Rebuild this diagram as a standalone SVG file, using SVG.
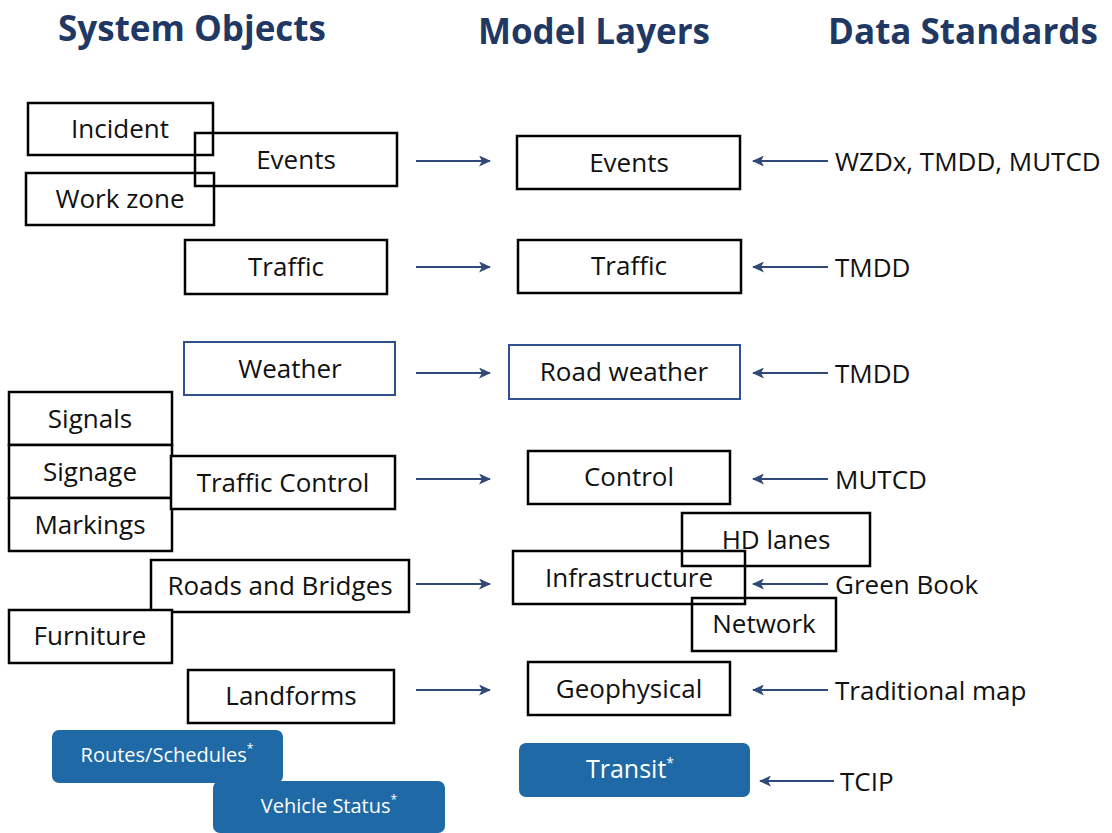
<svg xmlns="http://www.w3.org/2000/svg" width="1112" height="833" viewBox="0 0 1112 833">
<defs>
<style>
.hdr{font-family:"Open Sans","Noto Sans",sans-serif;font-weight:bold;font-size:35px;fill:#1F3864;text-anchor:middle}
.box{fill:#fff;stroke:#000;stroke-width:2.5}
.bbox{fill:#fff;stroke:#2F528F;stroke-width:2}
.fill{fill:#1F6AA6;stroke:none}
.t{font-family:"Open Sans","Noto Sans",sans-serif;font-size:26px;fill:#111;text-anchor:middle}
.s{font-family:"Open Sans","Noto Sans",sans-serif;font-size:26px;fill:#111}
.w{font-family:"Open Sans","Noto Sans",sans-serif;font-size:20px;fill:#fff;text-anchor:middle}
.wb{font-family:"Open Sans","Noto Sans",sans-serif;font-size:25px;fill:#fff;text-anchor:middle}
.sup{font-size:12px}
.arr{stroke:#2F4A7A;stroke-width:2;fill:none;marker-end:url(#ah)}
</style>
<marker id="ah" viewBox="0 0 12 11" refX="11" refY="5.5" markerWidth="12" markerHeight="11" markerUnits="userSpaceOnUse" orient="auto">
<path d="M0,0 L12,5.5 L0,11 L3,5.5 Z" fill="#2F4A7A"/>
</marker>
</defs>
<rect width="1112" height="833" fill="#fff"/>
<g id="headers">
<text class="hdr" x="192" y="41">System Objects</text>
<text class="hdr" x="594" y="44">Model Layers</text>
<text class="hdr" x="963" y="44">Data Standards</text>
</g>
<g id="incident"><rect class="box" x="28" y="103" width="185" height="52"/><text class="t" x="120" y="138">Incident</text></g>
<g id="events-src"><rect class="box" x="195" y="133" width="202" height="53" style="fill:none"/><text class="t" x="296" y="169">Events</text></g>
<g id="workzone"><rect class="box" x="26" y="173" width="188" height="52" style="fill:none"/><text class="t" x="120" y="208">Work zone</text></g>
<g id="traffic-src"><rect class="box" x="185" y="240" width="202" height="54"/><text class="t" x="286" y="276">Traffic</text></g>
<g id="weather"><rect class="bbox" x="184" y="342" width="211" height="53"/><text class="t" x="290" y="378">Weather</text></g>
<g id="signals"><rect class="box" x="9" y="392" width="163" height="53"/><text class="t" x="90" y="428">Signals</text></g>
<g id="signage"><rect class="box" x="9" y="445" width="163" height="53"/><text class="t" x="90" y="481">Signage</text></g>
<g id="markings"><rect class="box" x="9" y="498" width="163" height="53"/><text class="t" x="90" y="534">Markings</text></g>
<g id="traffic-control"><rect class="box" x="171" y="456" width="224" height="53"/><text class="t" x="283" y="492">Traffic Control</text></g>
<g id="roads"><rect class="box" x="151" y="560" width="258" height="52"/><text class="t" x="280" y="595">Roads and Bridges</text></g>
<g id="furniture"><rect class="box" x="9" y="610" width="163" height="53"/><text class="t" x="90" y="645">Furniture</text></g>
<g id="landforms"><rect class="box" x="188" y="670" width="206" height="53"/><text class="t" x="291" y="705">Landforms</text></g>
<g id="routes"><rect class="fill" x="52" y="730" width="231" height="53" rx="7"/><text class="w" x="167" y="762">Routes/Schedules<tspan class="sup" dy="-9">*</tspan></text></g>
<g id="vehicle"><rect class="fill" x="213" y="781" width="232" height="52" rx="7"/><text class="w" x="329" y="813">Vehicle Status<tspan class="sup" dy="-9">*</tspan></text></g>
<g id="events-layer"><rect class="box" x="517" y="136" width="223" height="53"/><text class="t" x="629" y="172">Events</text></g>
<g id="traffic-layer"><rect class="box" x="518" y="240" width="223" height="53"/><text class="t" x="629" y="275">Traffic</text></g>
<g id="road-weather"><rect class="bbox" x="509" y="345" width="231" height="54"/><text class="t" x="624" y="381">Road weather</text></g>
<g id="control"><rect class="box" x="528" y="451" width="202" height="53"/><text class="t" x="629" y="486">Control</text></g>
<g id="infrastructure"><rect class="box" x="513" y="551" width="232" height="53" style="fill:none"/><text class="t" x="629" y="587">Infrastructure</text></g>
<g id="hd-lanes"><rect class="box" x="682" y="513" width="188" height="53" style="fill:none"/><text class="t" x="776" y="549">HD lanes</text></g>
<g id="network"><rect class="box" x="692" y="598" width="144" height="53" style="fill:none"/><text class="t" x="764" y="633">Network</text></g>
<g id="geophysical"><rect class="box" x="528" y="662" width="202" height="53"/><text class="t" x="629" y="698">Geophysical</text></g>
<g id="transit"><rect class="fill" x="519" y="743" width="231" height="54" rx="7"/><text class="wb" x="630" y="778">Transit<tspan class="sup" dy="-10" style="font-size:14px">*</tspan></text></g>
<g id="standards">
<text class="s" x="835" y="171">WZDx, TMDD, MUTCD</text>
<text class="s" x="835" y="277">TMDD</text>
<text class="s" x="835" y="383">TMDD</text>
<text class="s" x="835" y="489">MUTCD</text>
<text class="s" x="835" y="594">Green Book</text>
<text class="s" x="835" y="700">Traditional map</text>
<text class="s" x="840" y="791">TCIP</text>
</g>
<g id="connectors">
<line class="arr" x1="416" y1="161" x2="490" y2="161"/>
<line class="arr" x1="416" y1="267" x2="490" y2="267"/>
<line class="arr" x1="416" y1="373" x2="490" y2="373"/>
<line class="arr" x1="416" y1="479" x2="490" y2="479"/>
<line class="arr" x1="416" y1="584" x2="490" y2="584"/>
<line class="arr" x1="416" y1="690" x2="490" y2="690"/>
<line class="arr" x1="828" y1="161" x2="753" y2="161"/>
<line class="arr" x1="828" y1="267" x2="753" y2="267"/>
<line class="arr" x1="828" y1="373" x2="753" y2="373"/>
<line class="arr" x1="828" y1="479" x2="753" y2="479"/>
<line class="arr" x1="828" y1="584" x2="753" y2="584"/>
<line class="arr" x1="828" y1="690" x2="753" y2="690"/>
<line class="arr" x1="834" y1="781" x2="760" y2="781"/>
</g>
</svg>
